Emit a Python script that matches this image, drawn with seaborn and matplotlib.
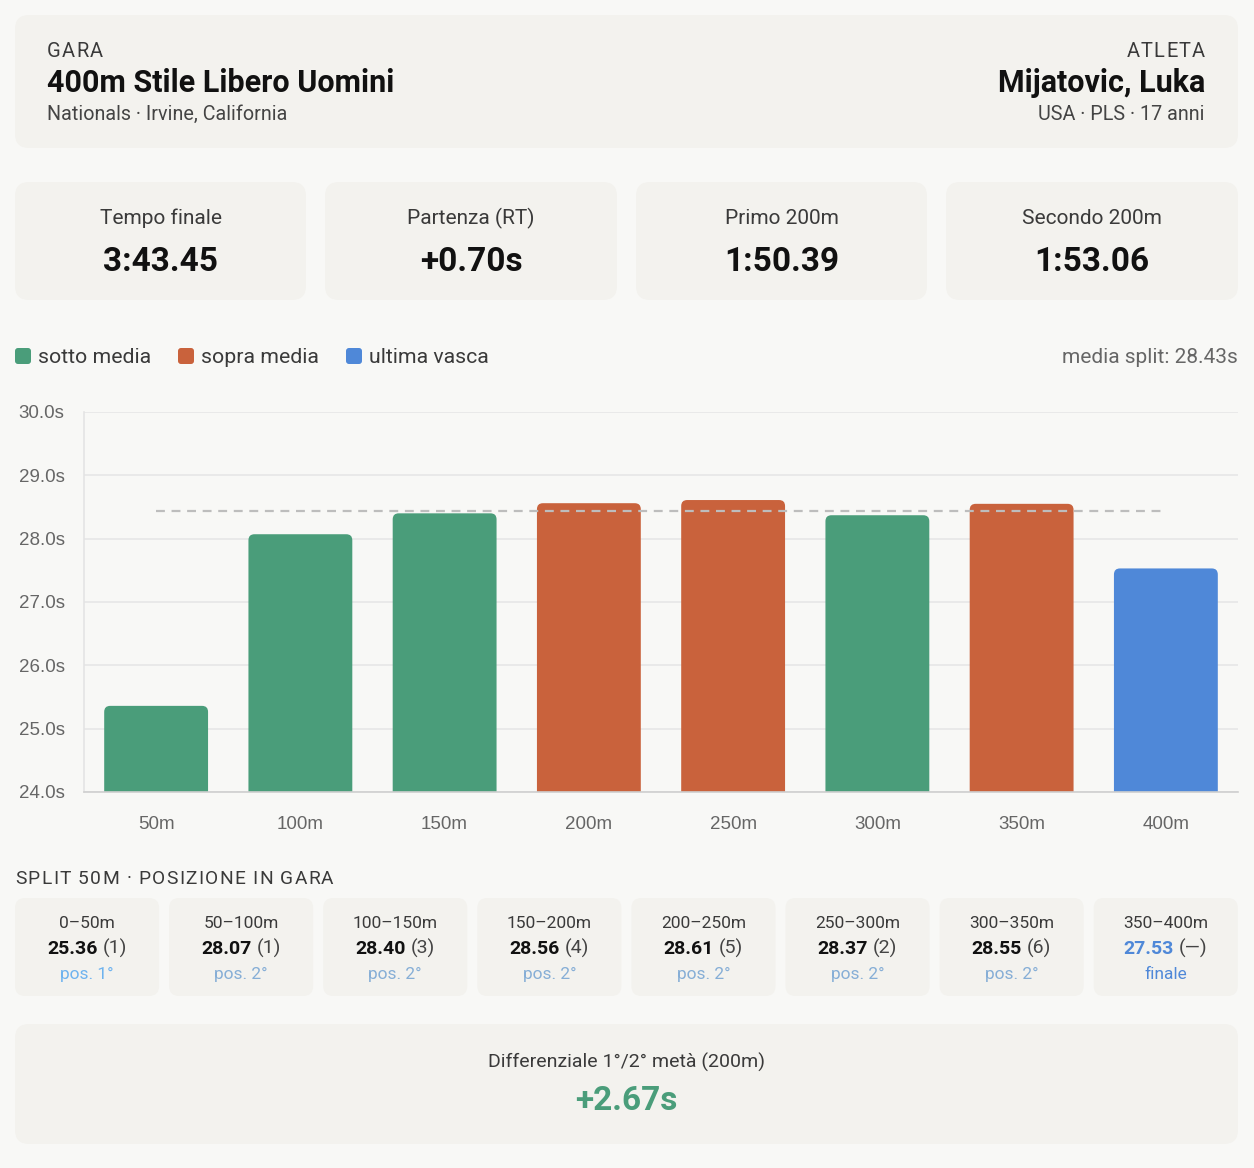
import matplotlib
matplotlib.use("Agg")
import matplotlib.pyplot as plt
from matplotlib.patches import FancyBboxPatch
from matplotlib.transforms import Affine2D
import seaborn as sns
import pandas as pd

# ---------------- data ----------------
split_labels = ["50m", "100m", "150m", "200m", "250m", "300m", "350m", "400m"]
split_times = [25.36, 28.07, 28.40, 28.56, 28.61, 28.37, 28.55, 27.53]
split_kind = ["sotto media", "sotto media", "sotto media", "sopra media",
              "sopra media", "sotto media", "sopra media", "ultima vasca"]
media_split = 28.43
y_ticks = [24, 25, 26, 27, 28, 29, 30]

segment_labels = ["0–50m", "50–100m", "100–150m", "150–200m",
                  "200–250m", "250–300m", "300–350m", "350–400m"]
segment_ranks = ["(1)", "(1)", "(3)", "(4)", "(5)", "(2)", "(6)", "(—)"]
segment_notes = ["pos. 1°", "pos. 2°", "pos. 2°", "pos. 2°",
                 "pos. 2°", "pos. 2°", "pos. 2°", "finale"]

stat_labels = ["Tempo finale", "Partenza (RT)", "Primo 200m", "Secondo 200m"]
stat_values = ["3:43.45", "+0.70s", "1:50.39", "1:53.06"]

race_kicker = "GARA"
race_title = "400m Stile Libero Uomini"
race_meta = "Nationals · Irvine, California"
athlete_kicker = "ATLETA"
athlete_name = "Mijatovic, Luka"
athlete_meta = "USA · PLS · 17 anni"
section_title = "SPLIT 50M · POSIZIONE IN GARA"
diff_label = "Differenziale 1°/2° metà (200m)"
diff_value = "+2.67s"

# ---------------- style ----------------
BG = "#F8F8F6"
CARD = "#F3F2EE"
GREEN = "#4A9D7A"
ORANGE = "#C9623C"
BLUE = "#4F88D8"
palette = {"sotto media": GREEN, "sopra media": ORANGE, "ultima vasca": BLUE}
DARK = "#111111"
MID = "#3A3A3A"
GREY = "#666666"

sns.set_theme(style="white")
FONT = ["Roboto", "DejaVu Sans"]
plt.rcParams["font.family"] = FONT

W, H = 1254, 1168
fig = plt.figure(figsize=(W / 100, H / 100), dpi=100, facecolor=BG)
T = Affine2D().scale(1 / W, -1 / H).translate(0, 1) + fig.transFigure
renderer = fig.canvas.get_renderer()


def card(x0, y0, x1, y1, r=12, color=CARD):
    p = FancyBboxPatch((x0, y0), x1 - x0, y1 - y0,
                       boxstyle=f"round,pad=0,rounding_size={r}",
                       transform=T, facecolor=color, edgecolor="none", zorder=0)
    fig.add_artist(p)


def txt(x, y, s, size, color=MID, weight="normal", ha="left", va="baseline", family=None):
    return fig.text(x, y, s, transform=T, fontsize=size, color=color,
                    fontweight=weight, ha=ha, va=va, family=family or FONT)


def width_of(s, size, weight="normal"):
    t = txt(0, 0, s, size, weight=weight)
    w = t.get_window_extent(renderer).width
    t.remove()
    return w


def tracked(x, y, s, size, color, spacing, ha="left"):
    total = width_of(s, size) + (len(s) - 1) * spacing
    start = x - total if ha == "right" else x
    for k, ch in enumerate(s):
        if ch == " ":
            continue
        pos = width_of(s[:k + 1], size) - width_of(ch, size) + k * spacing
        txt(start + pos, y, ch, size, color)


# ---------------- header ----------------
card(15, 15, 1238, 148, r=14)
tracked(47, 57, race_kicker, 14.5, MID, 1.3)
txt(47, 92, race_title, 22, DARK, weight="bold")
txt(47, 120, race_meta, 14.2, "#444444")
tracked(1205, 57, athlete_kicker, 14.5, MID, 1.3, ha="right")
txt(1205, 92, athlete_name, 22, DARK, weight="bold", ha="right")
txt(1205, 120, athlete_meta, 14.2, "#444444", ha="right")

# ---------------- stat cards ----------------
stat_x = [(15, 306), (325, 617), (636, 927), (946, 1238)]
for (x0, x1), lab, val in zip(stat_x, stat_labels, stat_values):
    card(x0, 182, x1, 300, r=14)
    cx = (x0 + x1) / 2
    txt(cx, 224, lab, 15, MID, ha="center")
    txt(cx, 271, val, 24, DARK, weight="bold", ha="center")

# ---------------- legend ----------------
leg_x = [15, 178, 346]
for lx, name in zip(leg_x, ["sotto media", "sopra media", "ultima vasca"]):
    p = FancyBboxPatch((lx, 348), 16, 16, boxstyle="round,pad=0,rounding_size=3",
                       transform=T, facecolor=palette[name], edgecolor="none")
    fig.add_artist(p)
    txt(lx + 23, 363, name, 15.3, MID)
txt(1238, 363, f"media split: {media_split:.2f}s", 15, GREY, ha="right")

# ---------------- chart ----------------
ax = fig.add_axes([84 / W, 1 - 792 / H, (1238 - 84) / W, (792 - 412) / H])
ax.set_facecolor(BG)
df = pd.DataFrame({"split": split_labels, "time": split_times, "kind": split_kind})
sns.barplot(data=df, x="split", y="time", hue="kind", order=split_labels,
            hue_order=["sotto media", "sopra media", "ultima vasca"],
            palette=palette, dodge=False, width=0.72, saturation=1,
            legend=False, ax=ax, zorder=2)
ax.set_xlim(-0.5, len(split_labels) - 0.5)
ax.set_ylim(y_ticks[0], y_ticks[-1])

# rounded tops for bars
px_x = ((1238 - 84) / len(split_labels))
px_y = (792 - 412) / (y_ticks[-1] - y_ticks[0])
r_px = 6
for bar in list(ax.patches):
    if bar.get_height() == 0:
        continue
    rb = FancyBboxPatch((bar.get_x(), bar.get_y()), bar.get_width(), bar.get_height(),
                        boxstyle=f"round,pad=0,rounding_size={r_px / px_x}",
                        mutation_aspect=px_x / px_y,
                        facecolor=bar.get_facecolor(), edgecolor="none", zorder=2)
    ax.add_patch(rb)
    bar.set_visible(False)

ax.hlines(media_split, 0, len(split_labels) - 1, colors="#BDBDBD",
          linestyles=(0, (4, 3)), lw=1.6, zorder=5)

ax.set_yticks(y_ticks)
ax.set_yticklabels([f"{v:.1f}s" for v in y_ticks])
ax.set_xlabel("")
ax.set_ylabel("")
ax.yaxis.grid(True, color="#E7E7E7", lw=1.2, zorder=0)
ax.xaxis.grid(False)
ax.set_axisbelow(True)
for s in ["top", "right"]:
    ax.spines[s].set_visible(False)
ax.spines["left"].set_color("#E4E4E4")
ax.spines["left"].set_linewidth(1.2)
ax.spines["bottom"].set_color("#CFCFCF")
ax.spines["bottom"].set_linewidth(1.2)
ax.spines["bottom"].set_zorder(6)
ax.tick_params(axis="y", length=10, width=1.2, color="#E7E7E7", labelcolor=GREY,
               labelsize=13.5, pad=4)
ax.tick_params(axis="x", length=0, labelcolor=GREY, labelsize=13.5, pad=17.5)
for lab in ax.get_xticklabels() + ax.get_yticklabels():
    lab.set_family(["Liberation Sans", "DejaVu Sans"])

# ---------------- split cards ----------------
tracked(15, 884, section_title, 13.8, MID, 1.3)
cw, gap = 144.1, 10
for i in range(len(split_labels)):
    x0 = 15 + i * (cw + gap)
    card(x0, 898, x0 + cw, 996, r=10)
    cx = x0 + cw / 2
    txt(cx, 928, segment_labels[i], 12.5, MID, ha="center")
    last = split_kind[i] == "ultima vasca"
    t1 = txt(0, 954, f"{split_times[i]:.2f}", 14, BLUE if last else DARK, weight="bold")
    t2 = txt(0, 954, segment_ranks[i], 14, "#444444")
    w1 = t1.get_window_extent(renderer).width
    w2 = t2.get_window_extent(renderer).width
    g = 5
    start = cx - (w1 + g + w2) / 2
    t1.set_position((start, 954))
    t2.set_position((start + w1 + g, 954))
    if last:
        ncol = BLUE
    elif segment_notes[i] == "pos. 1°":
        ncol = "#6EB3EE"
    else:
        ncol = "#86AED6"
    txt(cx, 979, segment_notes[i], 12.5, ncol, ha="center")

# ---------------- bottom card ----------------
card(15, 1024, 1238, 1144, r=14)
txt(626, 1068, diff_label, 14, MID, ha="center")
txt(626, 1110, diff_value, 24, GREEN, weight="bold", ha="center")

fig.savefig("out.png", dpi=100, facecolor=BG)
